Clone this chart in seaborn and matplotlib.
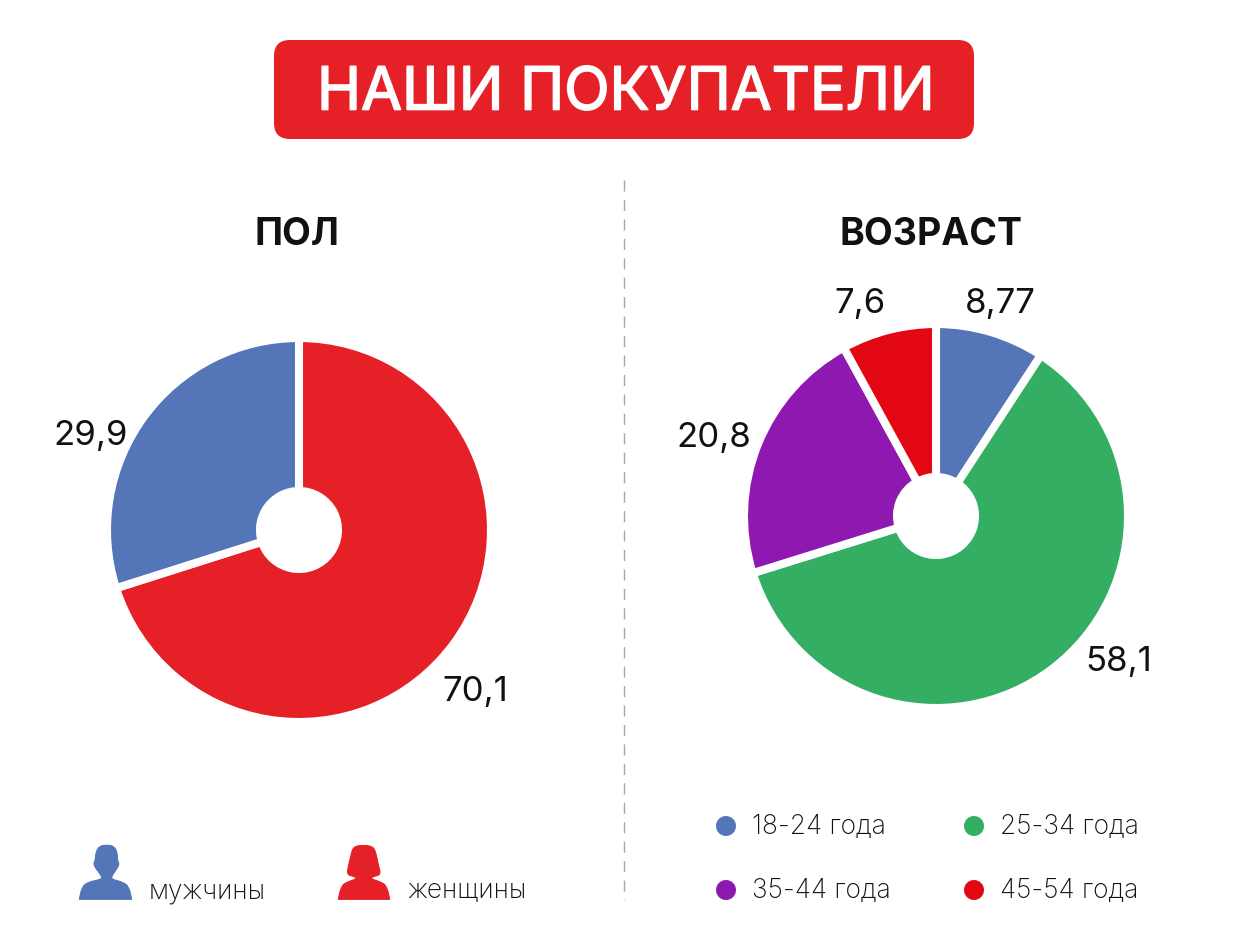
import matplotlib.pyplot as plt
import matplotlib.patheffects as pe
import seaborn as sns
from matplotlib.patches import FancyBboxPatch, PathPatch
from matplotlib.path import Path

sns.set_theme(style="white")
plt.rcParams['font.family'] = ['Inter', 'DejaVu Sans']

W, H = 1248, 940

title = "НАШИ ПОКУПАТЕЛИ"

gender_labels = ['женщины', 'мужчины']
gender_values = [70.1, 29.9]
gender_colors = ['#E52026', '#5475B8']

age_labels = ['18-24 года', '25-34 года', '35-44 года', '45-54 года']
age_values = [8.77, 58.1, 20.8, 7.6]
age_colors = ['#5475B8', '#34AE63', '#8F19B0', '#E30613']

INK = '#111111'


def fmt(v):
    return f"{v:g}".replace('.', ',')


def donut(ax, values, colors, cx, cy):
    # outer radius is a bit larger since the white edge eats half its width
    ax.pie(values, colors=colors, center=(cx, H - cy), radius=192, startangle=90,
           counterclock=False, frame=True,
           wedgeprops=dict(width=153, edgecolor='white', linewidth=5.8))


def icon(ax, pts, color, dx, dy):
    # outline measured from a 3x crop of the legend, rounded with quadratic curves
    xy = [(dx + x / 3, H - (dy + y / 3)) for x, y in pts]
    mid = [((a[0] + b[0]) / 2, (a[1] + b[1]) / 2) for a, b in zip(xy, xy[1:] + xy[:1])]
    verts = [mid[-1]]
    codes = [Path.MOVETO]
    for p, m in zip(xy, mid):
        verts += [p, m]
        codes += [Path.CURVE3, Path.CURVE3]
    ax.add_patch(PathPatch(Path(verts, codes), facecolor=color, edgecolor=color, linewidth=0.8))


fig = plt.figure(figsize=(W / 100, H / 100), dpi=100, facecolor='white')
ax = fig.add_axes([0, 0, 1, 1])

donut(ax, gender_values, gender_colors, 299, 530)
donut(ax, age_values, age_colors, 936, 516)

ax.set_xlim(0, W)
ax.set_ylim(0, H)
ax.set_aspect('equal')
ax.axis('off')

# title plate
ax.add_patch(FancyBboxPatch((274, H - 139), 700, 99, boxstyle="round,pad=0,rounding_size=16",
                            mutation_aspect=1, facecolor='#E52026', edgecolor='none'))
ax.text(626, H - 94, title, color='white', fontsize=42.7, ha='center', va='center',
        path_effects=[pe.withStroke(linewidth=1.2, foreground='white')])

# divider
ax.plot([624, 624], [H - 180, H - 900], color='#A8A8A8', linewidth=1, dashes=(8, 6))

ax.text(297, H - 235, 'ПОЛ', color=INK, fontsize=27, fontweight='bold', ha='center', va='center')
ax.text(931, H - 235, 'ВОЗРАСТ', color=INK, fontsize=27, fontweight='bold', ha='center', va='center')

# value labels
for val, x, y in zip(gender_values, [475, 91], [692, 436]):
    ax.text(x, H - y, fmt(val), color=INK, fontsize=25, ha='center', va='center')
for val, x, y in zip(age_values, [1000, 1119, 714, 860], [304, 662, 438, 304]):
    ax.text(x, H - y, fmt(val), color=INK, fontsize=25, ha='center', va='center')

# gender legend
male = [(140, 75), (118, 78), (107, 98), (106, 122), (100, 130), (107, 145), (125, 168), (125, 178),
        (85, 186), (66, 200), (58, 238), (58, 238), (215, 238), (215, 238), (207, 200), (188, 186),
        (155, 178), (155, 168), (172, 145), (178, 130), (172, 122), (172, 98), (162, 78)]
female = [(910, 75), (880, 80), (873, 105), (866, 135), (860, 165), (888, 170), (888, 178),
          (860, 186), (843, 200), (835, 238), (835, 238), (989, 238), (989, 238), (981, 200),
          (964, 186), (935, 178), (935, 170), (963, 165), (955, 135), (948, 100), (940, 80)]
icon(ax, male, gender_colors[1], 60, 820)
icon(ax, female, gender_colors[0], 60, 820)
ax.text(149, H - 891, gender_labels[1], color=INK, fontsize=19, fontweight='light', ha='left', va='center')
ax.text(407, H - 891, gender_labels[0], color=INK, fontsize=19, fontweight='light', ha='left', va='center')

# age legend
dot_x = [726, 974, 726, 974]
dot_y = [H - 826, H - 826, H - 890, H - 890]
sns.scatterplot(x=dot_x, y=dot_y, hue=age_labels, palette=age_colors, s=207,
                linewidth=0, legend=False, ax=ax)
for lab, x, y in zip(age_labels, dot_x, dot_y):
    ax.text(x + 26, y - 1, lab, color=INK, fontsize=19, fontweight='light', ha='left', va='center')

ax.set_xlim(0, W)
ax.set_ylim(0, H)

fig.savefig('out.png', dpi=100, facecolor='white')
